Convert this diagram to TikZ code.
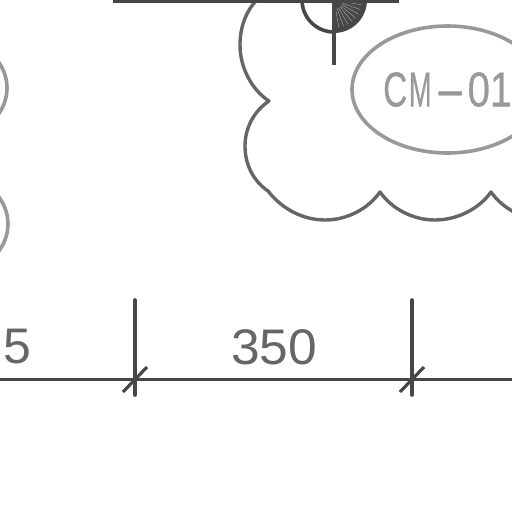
\documentclass[tikz,border=0pt]{standalone}
\usepackage{fontspec}
\setmainfont{Liberation Sans}
\newfontfamily\tagfont[FakeBold=0.6]{Liberation Sans}
\usetikzlibrary{shapes.geometric,calc}
\definecolor{inkdark}{gray}{0.28}
\definecolor{inkmid}{gray}{0.40}
\definecolor{inktag}{gray}{0.60}
\newcommand{\tagtext}{\scalebox{0.68}[1]{C}\kern1.5pt\scalebox{0.56}[1]{M}\kern3pt\scalebox{1.9}[1]{-}\kern2pt\scalebox{0.82}[1]{0}\kern0pt\scalebox{0.8}[1]{1}}
\tikzset{
  % --- wall, door and dimension lines ---
  wall/.style={draw=inkdark,line width=3.6pt},
  dimline/.style={draw=inkdark,line width=3.4pt},
  tick/.style={draw=inkdark,line width=3.6pt,line cap=round},
  slash/.style={draw=inkdark,line width=3.2pt},
  cloud/.style={draw=inkmid,line width=3.4pt,line join=round},
  % --- labels ---
  tag/.style={ellipse,draw=inktag,line width=3.6pt,minimum width=191pt,
              minimum height=127pt,inner sep=0pt,text=inktag,font=\tagfont\fontsize{49}{49}\selectfont},
  dimlab/.style={inner sep=0pt,text=inkmid,font=\fontsize{50}{50}\selectfont},
}
\begin{document}
\begin{tikzpicture}[x=1pt,y=-1pt]
  \useasboundingbox (0,0) rectangle (512,512);

  % revision cloud, runs off the top and the right
  \draw[cloud] (263,-6) .. controls (246,8) and (240,27) .. (240,45)
     .. controls (240,68) and (252,90) .. (269,101)
     .. controls (254,111) and (245,128) .. (245,146)
     .. controls (245,163) and (252,180) .. (268,191)
     .. controls (282,209) and (303,220) .. (325,220)
     .. controls (347,220) and (368,209) .. (380,192)
     .. controls (392,209) and (413,220) .. (435,220)
     .. controls (457,220) and (479,209) .. (491,192)
     .. controls (503,209) and (524,220) .. (546,220);

  % tags
  \node[tag] (tagmain) at (447.5,89.5) {\tagtext};
  \node[tag] (tagupper) at (-88.5,88) {};
  \node[tag] (taglower) at (-87.5,224) {};

  % wall and door swing
  \coordinate (wallL) at (113,1);
  \coordinate (wallR) at (399,1);
  \coordinate (hinge) at (334,0);
  \coordinate (leaf) at (334,65);
  \fill[inkdark] (hinge) -- (367,0) arc[start angle=0,end angle=90,radius=33] -- cycle;
  \foreach \ang in {10,20,...,80}
    \draw[white!55!inkdark,line width=0.4pt] ($(hinge)+(\ang:9)$) -- ($(hinge)+(\ang:28)$);
  \draw[wall] (302,0) arc[start angle=180,end angle=90,radius=32];
  \draw[wall] (wallL) -- (wallR);
  \draw[wall] (hinge) -- (leaf);

  % dimension line
  \coordinate (dimL) at (0,379.5);
  \coordinate (dimR) at (512,379.5);
  \coordinate (tickAtop) at (135,300);
  \coordinate (tickAbot) at (135,395);
  \coordinate (tickBtop) at (412,300);
  \coordinate (tickBbot) at (412,395);
  \draw[dimline] (dimL) -- (dimR);
  \draw[tick] (tickAtop) -- (tickAbot);
  \draw[tick] (tickBtop) -- (tickBbot);
  \draw[slash] (123,392) -- (147,367);
  \draw[slash] (400,392) -- (424,367);

  \node[dimlab] (dimA) at (17,347) {5};
  \node[dimlab] (dimB) at (274,347) {\scalebox{1.03}[1]{350}};
\end{tikzpicture}
\end{document}
